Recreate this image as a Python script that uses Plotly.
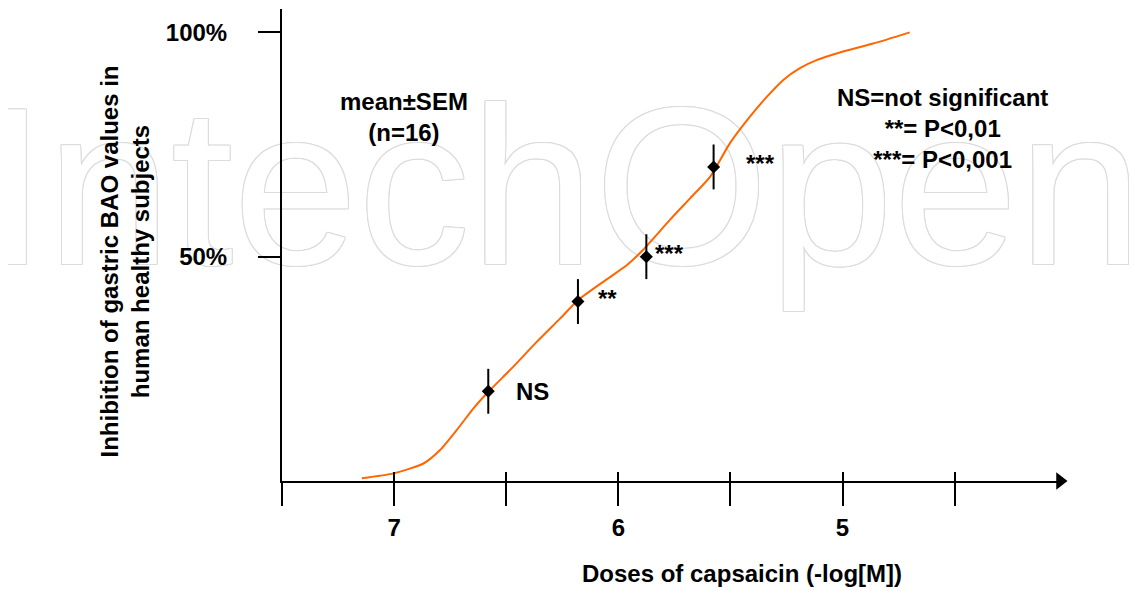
import plotly.graph_objects as go

# ---- data ----
curve_dose = [7.144, 7.003, 6.869, 6.795, 6.720, 6.646, 6.587, 6.468, 6.364, 6.26, 6.18, 6.05,
              5.96, 5.89, 5.77, 5.68, 5.591, 5.502, 5.413, 5.338, 5.264, 5.190, 5.116, 5.012,
              4.863, 4.700]
curve_inhib = [0.6, 1.7, 3.9, 6.9, 11.4, 16.2, 19.5, 25.5, 31.0, 36.2, 40.3, 45,
               48.2, 51.5, 58.2, 63.0, 67.8, 75.3, 81.2, 85.6, 89.4, 92.0, 93.8, 95.5,
               97.5, 100]

point_dose = [6.58, 6.18, 5.875, 5.575]
point_inhib = [20, 40, 50, 70]
point_sem = [5, 5, 5, 5]
sig_labels = ["NS", "**", "***", "***"]
sig_xshift = [26, 18, 7, 30]
sig_yshift = [0, 3, 3, 3]

x_tickvals = [7.5, 7.0, 6.5, 6.0, 5.5, 5.0, 4.5]
x_ticktext = ["", "7", "", "6", "", "5", ""]
y_tickvals = [50, 100]
y_ticktext = ["50%", "100%"]

x_range = [7.5, 4.03]
y_range = [0, 105.2]

FONT = "Liberation Sans, Arial, sans-serif"
ORANGE = "rgb(255,102,0)"
WM = "#dcdcdc"

fig = go.Figure()

# watermark (decoration, lowest layer)
fig.add_trace(go.Scatter(
    x=[6.245], y=[60.8], mode="text", text=["IntechOpen"],
    textposition="middle center", cliponaxis=False, hoverinfo="skip", showlegend=False,
    textfont=dict(family=FONT, size=224, color="white",
                  shadow=", ".join(f"{dx}px {dy}px 0 {WM}" for dx, dy in
                                   [(1, 0), (-1, 0), (0, 1), (0, -1), (1, 1), (-1, -1), (1, -1), (-1, 1)])),
))

fig.add_trace(go.Scatter(
    x=curve_dose, y=curve_inhib, mode="lines",
    line=dict(color=ORANGE, width=2, shape="spline", smoothing=0.6),
    hoverinfo="skip", showlegend=False,
))

fig.add_trace(go.Scatter(
    x=point_dose, y=point_inhib, mode="markers",
    marker=dict(symbol="diamond", size=10, color="black"),
    error_y=dict(type="data", array=point_sem, width=0, thickness=2, color="black"),
    hoverinfo="skip", showlegend=False,
))

# arrow head at the end of the x axis
fig.add_trace(go.Scatter(
    x=[x_range[1]], y=[y_range[0]], mode="markers", xaxis="x2",
    marker=dict(symbol="triangle-right", size=15, color="black"),
    cliponaxis=False, hoverinfo="skip", showlegend=False,
))

for xd, yd, lab, xs, ys in zip(point_dose, point_inhib, sig_labels, sig_xshift, sig_yshift):
    fig.add_annotation(x=xd, y=yd, text=f"<b>{lab}</b>", showarrow=False,
                       xanchor="left", yanchor="middle", xshift=xs, yshift=ys,
                       font=dict(family=FONT, size=24, color="black"))

fig.add_annotation(xref="paper", yref="paper", x=0.1568, y=0.7722,
                   text="<b>mean±SEM<br>(n=16)</b>", showarrow=False, align="center",
                   xanchor="center", yanchor="middle",
                   font=dict(family=FONT, size=24, color="black"))
fig.add_annotation(xref="paper", yref="paper", x=0.8496, y=0.7458,
                   text="<b>NS=not significant<br>**= P<0,01<br>***= P<0,001</b>",
                   showarrow=False, align="center", xanchor="center", yanchor="middle",
                   font=dict(family=FONT, size=24, color="black"))
fig.add_annotation(xref="paper", yref="paper", x=0.5913, y=-0.197,
                   text="<b>Doses of capsaicin (-log[M])</b>", showarrow=False,
                   xanchor="center", yanchor="middle",
                   font=dict(family=FONT, size=24, color="black"))
fig.add_annotation(xref="paper", yref="paper", x=-0.2024, y=0.464, textangle=-90,
                   text="<b>Inhibition of gastric BAO values in<br>human healthy subjects</b>",
                   showarrow=False, align="center", xanchor="center", yanchor="middle",
                   font=dict(family=FONT, size=24, color="black"))

# the page body adds an 8px offset, so the figure is 8px smaller on each side
fig.update_layout(
    width=1135, height=583,
    margin=dict(l=274, r=83, t=1, b=110),
    paper_bgcolor="white", plot_bgcolor="white",
    font=dict(family=FONT, color="black"),
    xaxis=dict(range=x_range, showgrid=False, zeroline=False,
               showline=True, linecolor="black", linewidth=2,
               tickmode="array", tickvals=x_tickvals, ticktext=x_ticktext,
               ticks="outside", ticklen=23, tickwidth=2, tickcolor="black",
               ticklabelstandoff=1,
               tickfont=dict(family=FONT, size=24, color="black", weight="bold")),
    xaxis2=dict(range=x_range, overlaying="x", anchor="y", side="bottom",
                showgrid=False, zeroline=False, showline=False,
                tickmode="array", tickvals=x_tickvals, showticklabels=False,
                ticks="inside", ticklen=9, tickwidth=2, tickcolor="black"),
    yaxis=dict(range=y_range, showgrid=False, zeroline=False,
               showline=True, linecolor="black", linewidth=2,
               tickmode="array", tickvals=y_tickvals, ticktext=y_ticktext,
               ticks="outside", ticklen=22, tickwidth=2, tickcolor="black",
               ticklabelstandoff=26,
               tickfont=dict(family=FONT, size=24, color="black", weight="bold")),
)

fig.write_html("out.html")
